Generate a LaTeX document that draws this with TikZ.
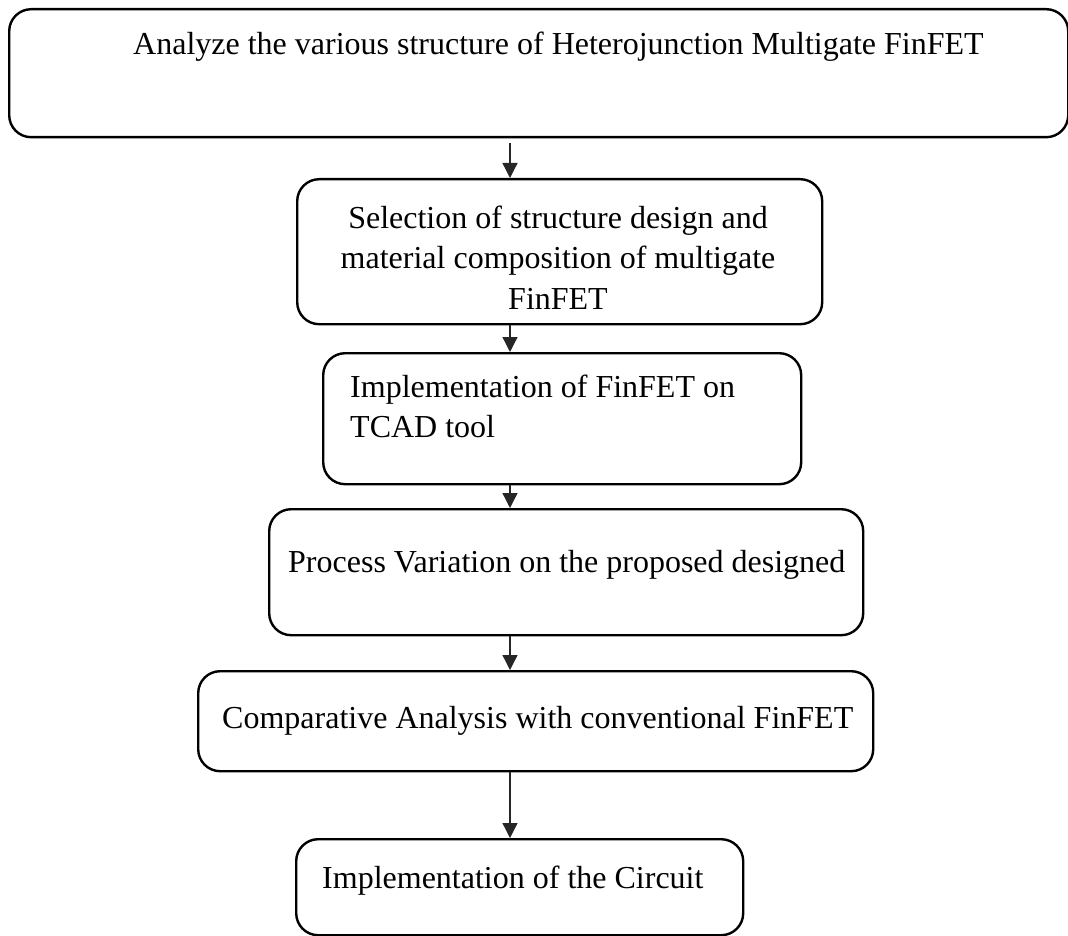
\documentclass[tikz,border=0pt]{standalone}
\usepackage{fontspec}
\setmainfont{Liberation Serif}
\usetikzlibrary{arrows.meta}
\tikzset{
  stepbox/.style={draw=black, line width=2.4pt, rounded corners=22pt, rectangle, inner sep=0pt},
  steptext/.style={font=\fontsize{32}{40}\selectfont, inner sep=0pt, align=left},
  flow/.style={draw=black!85, line width=1.3pt, -{Triangle[length=15pt,width=15pt]}}
}
\begin{document}
\begin{tikzpicture}[x=1pt,y=-1pt]
\useasboundingbox (0,0) rectangle (1068,936);
% boxes, placed by their top-left corner
\node[stepbox, minimum width=1059pt, minimum height=128pt, anchor=north west] (b1) at (8,8) {};
\node[stepbox, minimum width=525pt, minimum height=145pt, anchor=north west] (b2) at (296,178) {};
\node[stepbox, minimum width=478pt, minimum height=131pt, anchor=north west] (b3) at (322,352) {};
\node[stepbox, minimum width=594pt, minimum height=126pt, anchor=north west] (b4) at (268,508) {};
\node[stepbox, minimum width=675pt, minimum height=100pt, anchor=north west] (b5) at (197,670) {};
\node[stepbox, minimum width=447pt, minimum height=96pt, anchor=north west] (b6) at (295,838) {};
% texts
\node[steptext, anchor=base west] (t1) at (133,55) {Analyze the various structure of Heterojunction Multigate FinFET};
\node[steptext, anchor=base, align=center] (t2) at (558,229) {Selection of structure design and};
\node[steptext, anchor=base, align=center] (t2b) at (558,269) {material composition of multigate};
\node[steptext, anchor=base, align=center] (t2c) at (558,309) {FinFET};
\node[steptext, anchor=base west] (t3) at (350,397) {Implementation of FinFET on};
\node[steptext, anchor=base west] (t3b) at (350,437) {TCAD tool};
\node[steptext, anchor=base west] (t4) at (288,572) {Process Variation on the proposed designed};
\node[steptext, anchor=base west] (t5) at (222,728) {Comparative Analysis with conventional FinFET};
\node[steptext, anchor=base west] (t6) at (322,888) {Implementation of the Circuit};
% connectors along a common vertical line
\coordinate (ax) at (510,0);
\draw[flow, shorten <=5pt] (b1.south -| ax) -- (b2.north -| ax);
\draw[flow] (b2.south -| ax) -- (b3.north -| ax);
\draw[flow] (b3.south -| ax) -- (b4.north -| ax);
\draw[flow] (b4.south -| ax) -- (b5.north -| ax);
\draw[flow] (b5.south -| ax) -- (b6.north -| ax);
\end{tikzpicture}
\end{document}
